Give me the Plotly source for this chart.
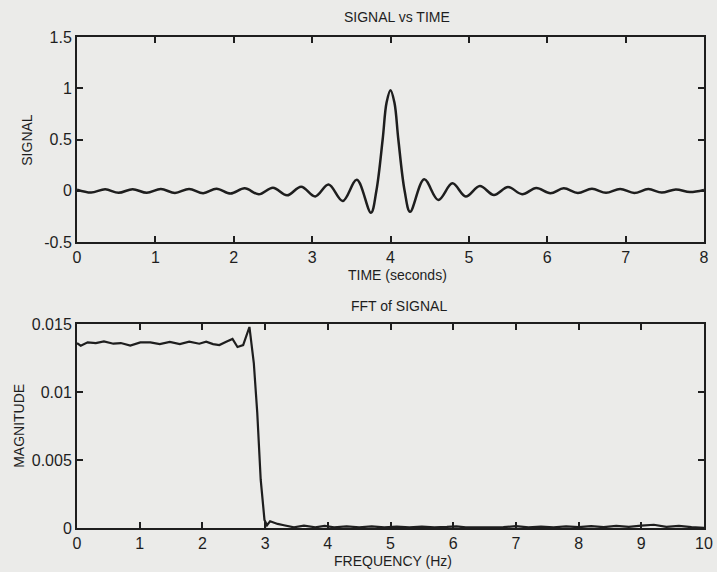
import plotly.graph_objects as go
from plotly.subplots import make_subplots

# ---- top: SIGNAL vs TIME (values at extrema / crossings)
time_s = [0.0, 0.18, 0.36, 0.53, 0.71, 0.89, 1.07, 1.25, 1.43, 1.61, 1.78, 1.96,
          2.14, 2.32, 2.50, 2.68, 2.86, 3.04, 3.21, 3.39, 3.57, 3.75, 3.82, 3.90,
          3.95, 4.00, 4.05, 4.10, 4.18, 4.25, 4.43, 4.61, 4.79, 4.96, 5.14, 5.32,
          5.50, 5.68, 5.86, 6.04, 6.21, 6.39, 6.57, 6.75, 6.93, 7.11, 7.29, 7.46,
          7.64, 7.82, 8.0]
signal = [0.010, -0.018, 0.014, -0.020, 0.015, -0.020, 0.017, -0.022, 0.018, -0.024,
          0.020, -0.028, 0.024, -0.035, 0.030, -0.045, 0.040, -0.055, 0.060, -0.100,
          0.107, -0.215, 0.0, 0.50, 0.86, 0.98, 0.86, 0.50, 0.0, -0.205, 0.112, -0.090,
          0.072, -0.056, 0.046, -0.042, 0.036, -0.034, 0.026, -0.025, 0.024, -0.022,
          0.019, -0.020, 0.018, -0.022, 0.016, -0.018, 0.013, -0.012, 0.008]

# ---- bottom: FFT of SIGNAL
freq_hz = [0.0, 0.06, 0.17, 0.30, 0.43, 0.58, 0.70, 0.85, 1.01, 1.17, 1.32, 1.48,
           1.64, 1.79, 1.95, 2.06, 2.17, 2.27, 2.38, 2.48, 2.56, 2.65, 2.75, 2.82,
           2.875, 2.93, 2.99, 3.03, 3.08, 3.20, 3.30, 3.46, 3.62, 3.80, 3.95, 4.10,
           4.30, 4.50, 4.70, 4.90, 5.10, 5.30, 5.50, 5.70, 5.90, 6.05, 6.20, 6.40,
           6.60, 6.80, 7.00, 7.20, 7.40, 7.60, 7.80, 8.00, 8.20, 8.40, 8.60, 8.80,
           9.00, 9.20, 9.40, 9.60, 9.80, 10.0]
magnitude = [0.01360, 0.01340, 0.01365, 0.01360, 0.01372, 0.01355, 0.01360, 0.01342,
             0.01365, 0.01365, 0.01352, 0.01368, 0.01352, 0.01370, 0.01355, 0.01370,
             0.01352, 0.01345, 0.01370, 0.01390, 0.01331, 0.01345, 0.01478, 0.01213,
             0.00846, 0.00355, 0.00060, 0.00020, 0.00050, 0.00030, 0.00020, 0.00005,
             0.00018, 0.00005, 0.00015, 0.00005, 0.00012, 0.00005, 0.00012, 0.00004,
             0.00010, 0.00004, 0.00010, 0.00005, 0.00008, 0.00012, 0.00004, 0.00006,
             0.00004, 0.00006, 0.00014, 0.00004, 0.00010, 0.00005, 0.00012, 0.00006,
             0.00014, 0.00006, 0.00016, 0.00008, 0.00018, 0.00024, 0.00008, 0.00016,
             0.00006, 0.00002]

sig_ticks = [-0.5, 0, 0.5, 1, 1.5]
sig_ticktext = ["-0.5", "0", "0.5", "1", "1.5"]
mag_ticks = [0, 0.005, 0.01, 0.015]
mag_ticktext = ["0", "0.005", "0.01", "0.015"]

W, H = 717, 572
ML, MR, MT, MB = 77, 4, 37, 44
PW, PH = W - ML - MR, H - MT - MB

def px(x):
    return (x - ML) / PW

def py(y):
    return (H - MB - y) / PH

FONT = "Liberation Sans, Arial, Helvetica, sans-serif"
INK = "#1e1e1e"
BG = "#ebebe9"

fig = make_subplots(rows=2, cols=1)
fig.add_trace(go.Scatter(x=time_s, y=signal, mode="lines",
                         line=dict(color=INK, width=2.5, shape="spline", smoothing=1.0)),
              row=1, col=1)
fig.add_trace(go.Scatter(x=freq_hz, y=magnitude, mode="lines",
                         line=dict(color=INK, width=2.2)),
              row=2, col=1)

axis_common = dict(showgrid=False, zeroline=False, showline=True, mirror="ticks",
                   linecolor=INK, linewidth=2, ticks="inside", ticklen=6,
                   tickwidth=1.6, tickcolor=INK,
                   tickfont=dict(family=FONT, size=16, color=INK))

fig.update_layout(
    xaxis=dict(domain=[0, 1], range=[0, 8], tickvals=list(range(9)), anchor="y",
               **axis_common),
    yaxis=dict(domain=[py(242), 1], range=[-0.5, 1.5], tickvals=sig_ticks,
               ticktext=sig_ticktext, anchor="x", **axis_common),
    xaxis2=dict(domain=[0, 1], range=[0, 10], tickvals=list(range(11)), anchor="y2",
                **axis_common),
    yaxis2=dict(domain=[0, py(324)], range=[0, 0.015], tickvals=mag_ticks,
                ticktext=mag_ticktext, anchor="x2", **axis_common),
    width=W, height=H,
    margin=dict(l=ML, r=MR, t=MT, b=MB, pad=0),
    paper_bgcolor=BG, plot_bgcolor=BG,
    showlegend=False,
    font=dict(family=FONT, size=15, color=INK),
)

texts = [
    ("SIGNAL vs TIME", 402, 17, 0),
    ("TIME (seconds)", 402, 275, 0),
    ("FFT of SIGNAL", 404, 306, 0),
    ("FREQUENCY (Hz)", 398, 561, 0),
    ("SIGNAL", 26, 140, -90),
    ("MAGNITUDE", 18, 426, -90),
]
for t, x, y, ang in texts:
    fig.add_annotation(text=t, x=px(x), y=py(y), xref="paper", yref="paper",
                       showarrow=False, xanchor="center", yanchor="middle",
                       textangle=ang, font=dict(family=FONT, size=14, color=INK))

fig.write_html("out.html")
